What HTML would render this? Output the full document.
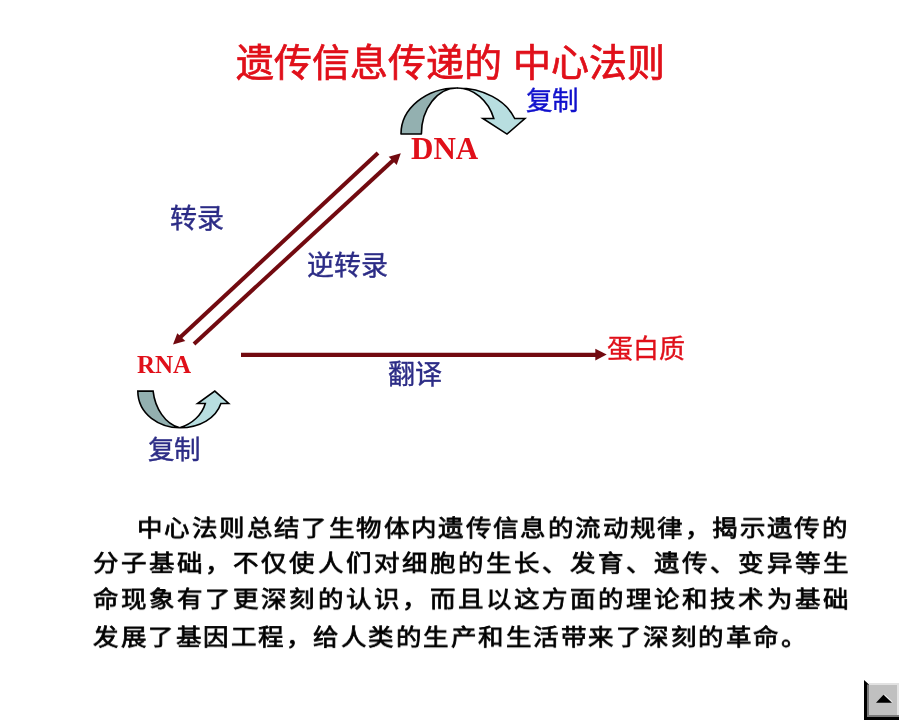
<!DOCTYPE html>
<html lang="zh-CN">
<head>
<meta charset="utf-8">
<style>
html,body{margin:0;padding:0;background:#fff;}
body{width:900px;height:720px;position:relative;overflow:hidden;font-family:"Liberation Sans",sans-serif;}
.t{position:absolute;white-space:nowrap;line-height:1;will-change:transform;}
#title{left:236px;top:44px;font-size:38px;color:#e0101a;-webkit-text-stroke:0.7px #e0101a;}
.lat{font-family:"Liberation Serif",serif;font-weight:bold;color:#e0101a;}
#dna{left:411px;top:133px;font-size:31px;}
#rna{left:137px;top:352px;font-size:25px;}
.blue{color:#2c2c86;font-size:27.5px;-webkit-text-stroke:0.4px #2c2c86;}
#fz1{left:526px;top:88px;font-size:26.5px;color:#1010cc;-webkit-text-stroke:0.4px #1010cc;}
#zl{left:170px;top:206px;font-size:27px;}
#nzl{left:307px;top:252.5px;font-size:27px;}
#fy{left:387.5px;top:362px;font-size:27px;}
#fz2{left:148px;top:437px;font-size:26.5px;}
#dbz{left:607px;top:336px;font-size:26px;color:#e0101a;-webkit-text-stroke:0.4px #e0101a;}
.body{position:absolute;will-change:transform;left:93px;width:756px;font-size:25.5px;-webkit-text-stroke:0.8px #000;transform:scaleY(0.92);transform-origin:50% 50%;color:#000;line-height:1;white-space:nowrap;display:flex;justify-content:space-between;}
svg{position:absolute;left:0;top:0;}
</style>
</head>
<body>
<svg width="900" height="720" viewBox="0 0 900 720">
  <!-- transcription arrow DNA -> RNA -->
  <line x1="378" y1="153" x2="180" y2="337.5" stroke="#720a10" stroke-width="4"/>
  <polygon points="173,344.4 177.3,333.3 185.3,340.9" fill="#720a10"/>
  <!-- reverse transcription RNA -> DNA -->
  <line x1="194" y1="344" x2="394" y2="159.5" stroke="#720a10" stroke-width="4"/>
  <polygon points="400.8,153.2 388.7,156.7 396.7,165" fill="#720a10"/>
  <!-- translation -->
  <line x1="241" y1="354.8" x2="597" y2="354.8" stroke="#720a10" stroke-width="4.2"/>
  <polygon points="606.7,354.4 595.3,348.7 595.3,360.4" fill="#720a10"/>
  <!-- top curved arrow -->
  <path d="M401,134 A56 46 0 0 1 457 88 A35.6 46 0 0 0 421.4 134 Z" fill="#93b0b0" stroke="#000" stroke-width="1.6" stroke-linejoin="round"/>
  <path d="M457,88 A61.3 46 0 0 1 514.7 118.5 L524.9,118.5 L507,134.1 L482.9,118.5 L493.8,118.5 A39 46 0 0 0 457 88 Z" fill="#b8dee0" stroke="#000" stroke-width="1.6" stroke-linejoin="miter"/>
  <!-- bottom curved arrow -->
  <path d="M137.8,391.1 L153.1,391.1 C155,408 165,424 179.8,427.8 C160,427.8 138,415 137.8,391.1 Z" fill="#93b0b0" stroke="#000" stroke-width="1.6"/>
  <path d="M179.8,427.8 C192,424 202,415 205.3,403.5 L197.6,403.5 L214.8,391.1 L228.7,403.5 L220.9,403.5 C216,418 200,427.8 179.8,427.8 Z" fill="#b8dee0" stroke="#000" stroke-width="1.6"/>
</svg>
<div id="title" class="t">遗传信息传递的 中心法则</div>
<div id="fz1" class="t">复制</div>
<div id="dna" class="t lat">DNA</div>
<div id="zl" class="t blue">转录</div>
<div id="nzl" class="t blue">逆转录</div>
<div id="rna" class="t lat">RNA</div>
<div id="fy" class="t blue">翻译</div>
<div id="dbz" class="t">蛋白质</div>
<div id="fz2" class="t blue">复制</div>

<div class="body" style="top:515.5px;left:137px;width:711px;"><span>中</span><span>心</span><span>法</span><span>则</span><span>总</span><span>结</span><span>了</span><span>生</span><span>物</span><span>体</span><span>内</span><span>遗</span><span>传</span><span>信</span><span>息</span><span>的</span><span>流</span><span>动</span><span>规</span><span>律</span><span>，</span><span>揭</span><span>示</span><span>遗</span><span>传</span><span>的</span></div>
<div class="body" style="top:551px;"><span>分</span><span>子</span><span>基</span><span>础</span><span>，</span><span>不</span><span>仅</span><span>使</span><span>人</span><span>们</span><span>对</span><span>细</span><span>胞</span><span>的</span><span>生</span><span>长</span><span>、</span><span>发</span><span>育</span><span>、</span><span>遗</span><span>传</span><span>、</span><span>变</span><span>异</span><span>等</span><span>生</span></div>
<div class="body" style="top:586.5px;"><span>命</span><span>现</span><span>象</span><span>有</span><span>了</span><span>更</span><span>深</span><span>刻</span><span>的</span><span>认</span><span>识</span><span>，</span><span>而</span><span>且</span><span>以</span><span>这</span><span>方</span><span>面</span><span>的</span><span>理</span><span>论</span><span>和</span><span>技</span><span>术</span><span>为</span><span>基</span><span>础</span></div>
<div class="body" style="top:624.5px;justify-content:flex-start;letter-spacing:1.5px;"><span>发展了基因工程，给人类的生产和生活带来了深刻的革命。</span></div>

<svg width="900" height="720" viewBox="0 0 900 720" shape-rendering="crispEdges">
  <rect x="867" y="685" width="30" height="32" fill="#c0c0c0"/>
  <rect x="869" y="683" width="30" height="2" fill="#e2e2e2"/>
  <rect x="897" y="683" width="2" height="32" fill="#e2e2e2"/>
  <rect x="867" y="684" width="2" height="33" fill="#7a7a7a"/>
  <rect x="867" y="715" width="32" height="2" fill="#7a7a7a"/>
  <rect x="864" y="684" width="3" height="36" fill="#000"/>
  <rect x="864" y="717" width="35" height="3" fill="#000"/>
</svg>
<svg width="900" height="720" viewBox="0 0 900 720">
  <polygon points="864,680 869,684.5 864,684.5" fill="#000"/>
  <polygon points="883.5,694.8 876,702.8 891.9,702.8" fill="#000"/>
  <line x1="884.5" y1="694.8" x2="892.5" y2="702" stroke="#fff" stroke-width="0.8"/>
</svg>
</body>
</html>
